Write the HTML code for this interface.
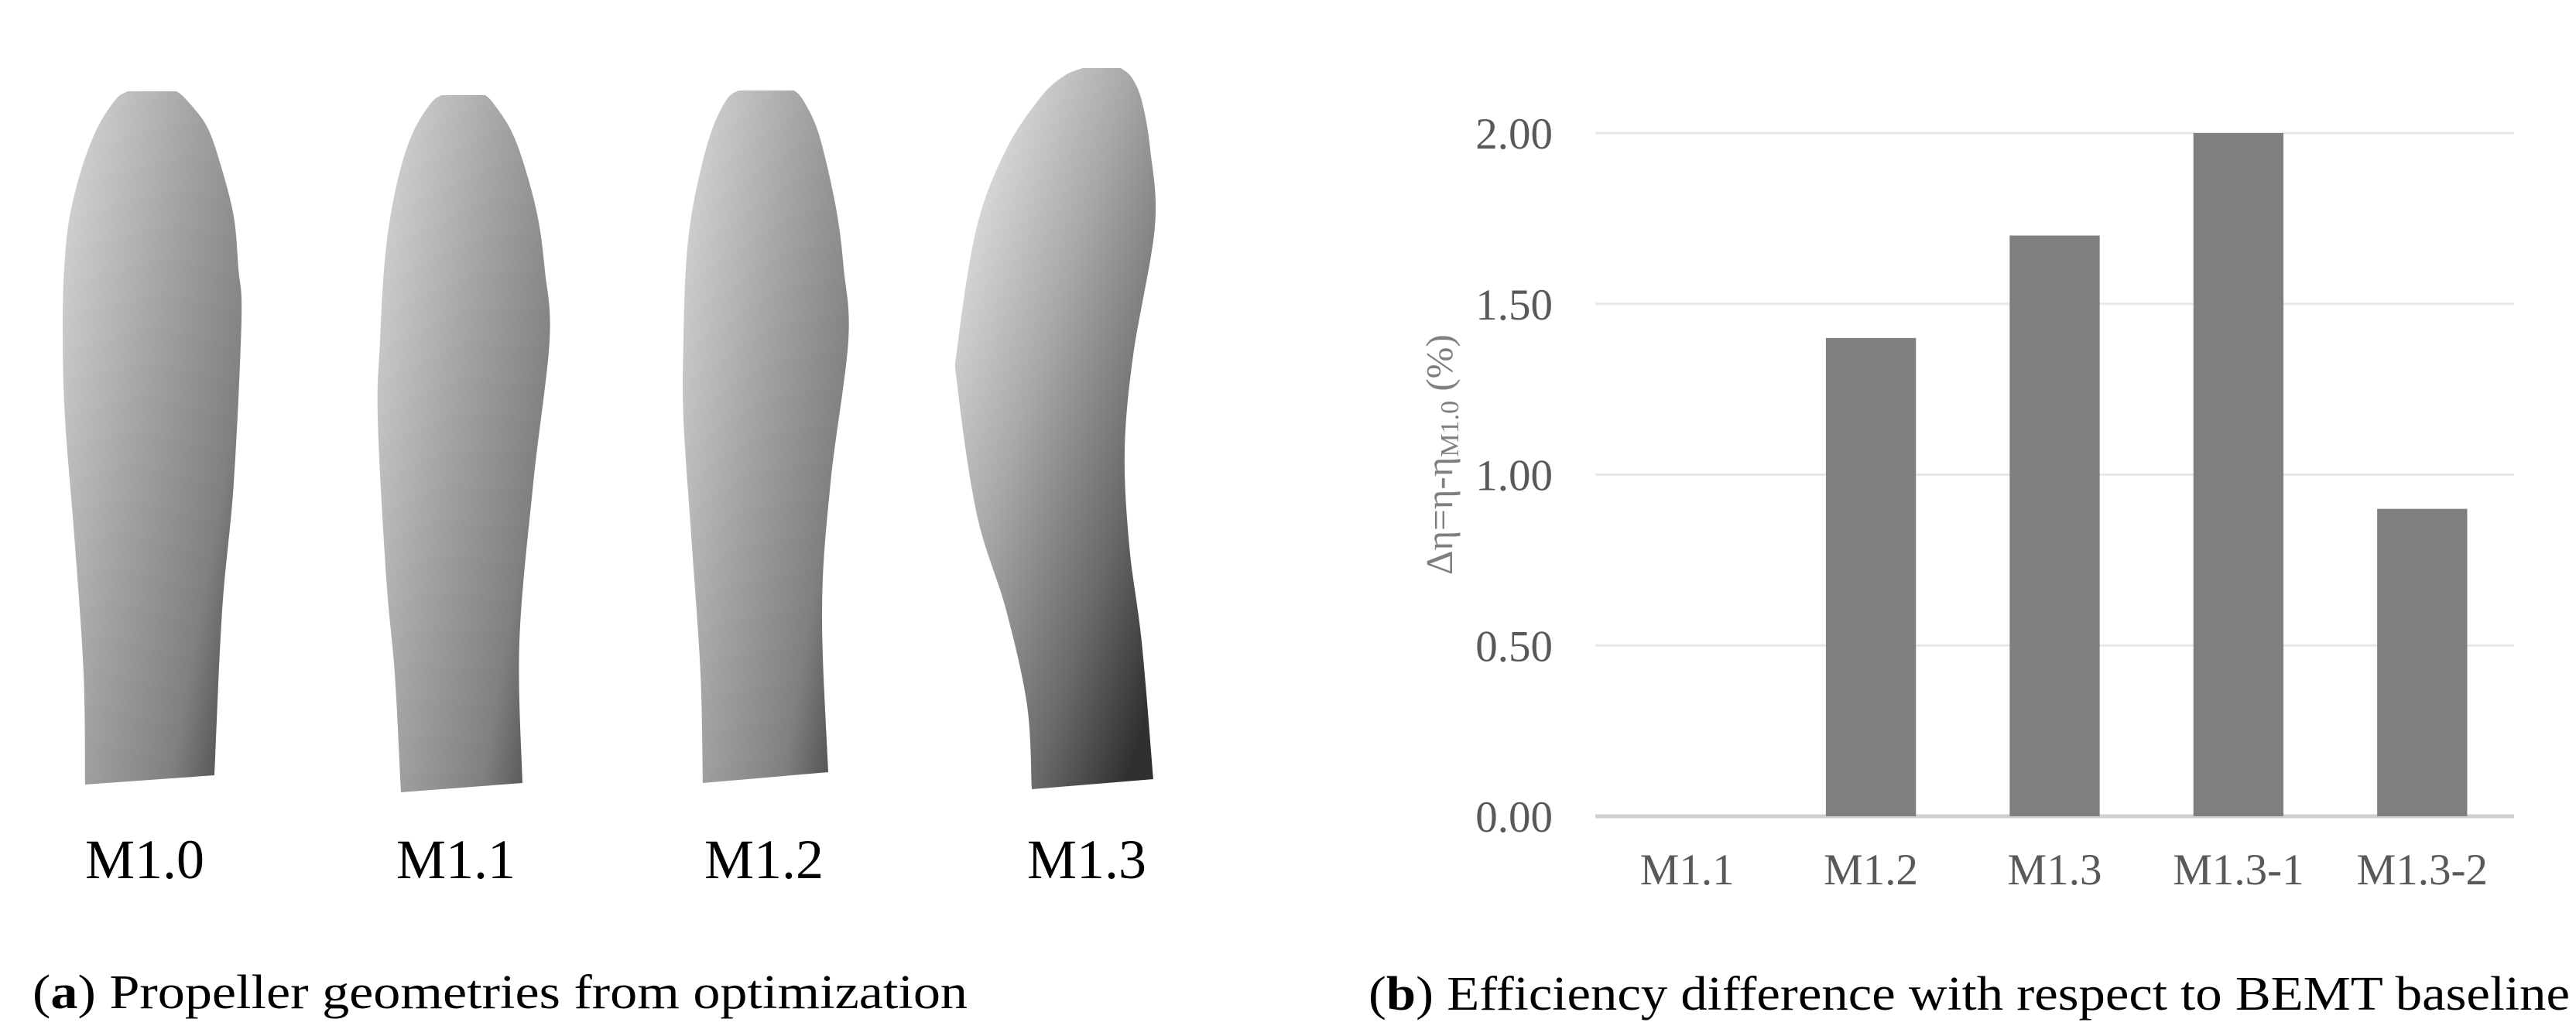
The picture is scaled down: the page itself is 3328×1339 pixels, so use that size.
<!DOCTYPE html>
<html>
<head>
<meta charset="utf-8">
<style>
  html,body{margin:0;padding:0;background:#fff;}
  svg{display:block;}
  text{font-family:"Liberation Serif","DejaVu Serif",serif;}
</style>
</head>
<body>
<svg id="fig" width="3328" height="1339" viewBox="0 0 3328 1339" xmlns="http://www.w3.org/2000/svg">
  <defs>
    <linearGradient id="gBlade" x1="0" y1="0.15" x2="1" y2="0.85">
      <stop offset="0" stop-color="#d2d2d2"/>
      <stop offset="0.45" stop-color="#a2a2a2"/>
      <stop offset="0.8" stop-color="#808080"/>
      <stop offset="1" stop-color="#505050"/>
    </linearGradient>
    <linearGradient id="gBlade3" x1="0.1" y1="0.05" x2="0.9" y2="0.95">
      <stop offset="0" stop-color="#e6e6e6"/>
      <stop offset="0.4" stop-color="#a8a8a8"/>
      <stop offset="0.75" stop-color="#6a6a6a"/>
      <stop offset="1" stop-color="#303030"/>
    </linearGradient>
  </defs>
  <g id="panel-a"></g>
  <g id="panel-b"></g>
  <text x="42" y="1303" font-size="62" fill="#000" textLength="1208" lengthAdjust="spacingAndGlyphs">(<tspan font-weight="bold">a</tspan>) Propeller geometries from optimization</text>
  <text x="1768" y="1305" font-size="62" fill="#000" textLength="1552" lengthAdjust="spacingAndGlyphs">(<tspan font-weight="bold">b</tspan>) Efficiency difference with respect to BEMT baseline</text>
</svg>
<script>
// ---- Chart data ----
const categories = ["M1.1", "M1.2", "M1.3", "M1.3-1", "M1.3-2"];
const values = [0.0, 1.4, 1.7, 2.0, 0.9];
const tickValues = [0, 0.5, 1.0, 1.5, 2.0];
const tickLabels = ["0.00", "0.50", "1.00", "1.50", "2.00"];

const NS = "http://www.w3.org/2000/svg";
function mk(tag, attrs, parent){
  const e = document.createElementNS(NS, tag);
  for (const k in attrs) e.setAttribute(k, attrs[k]);
  parent.appendChild(e);
  return e;
}

// ---- Bar chart ----
const pb = document.getElementById('panel-b');
const plotL = 2061, plotR = 3248, y0px = 1055, y2px = 172;
const yMin = 0, yMax = 2.0;
function yScale(v){ return y0px - (v - yMin) / (yMax - yMin) * (y0px - y2px); }
const band = (plotR - plotL) / categories.length;
function xCenter(i){ return plotL + band * (i + 0.5); }
const barW = band * 0.49;

tickValues.forEach((t, i) => {
  const y = yScale(t);
  const gl = mk('line', {x1: plotL, x2: plotR, y1: y, y2: y, stroke: i === 0 ? '#d0d0d0' : '#e8e8e8', 'stroke-width': i === 0 ? 5 : 3}, pb);
  
  
  const tl = mk('text', {x: 2006, y: y + 20, 'text-anchor': 'end', 'font-size': 57, fill: '#595959'}, pb);
  tl.textContent = tickLabels[i];
  
  
});

categories.forEach((c, i) => {
  const v = values[i];
  const top = yScale(v);
  const h = Math.max(0, y0px - top);
  const r = mk('rect', {x: xCenter(i) - barW / 2, y: top, width: barW, height: h, fill: '#7f7f7f'}, pb);
  
  
  const lb = mk('text', {x: xCenter(i), y: 1143, 'text-anchor': 'middle', 'font-size': 57, fill: '#595959'}, pb);
  lb.textContent = c;
  
  
});

const yt = mk('text', {x: 0, y: 0, 'font-size': 49, fill: '#7f7f7f', transform: 'translate(1876,743) rotate(-90)'}, pb);
yt.innerHTML = 'Δη=η-η<tspan font-size="34" dy="8">M1.0</tspan><tspan dy="-8"> (%)</tspan>';



// ---- Blades ----
const pa = document.getElementById('panel-a');
function smoothPath(pts){
  let d = 'M' + pts[0][0] + ',' + pts[0][1];
  for (let i = 0; i < pts.length - 1; i++){
    const p0 = pts[Math.max(0, i - 1)], p1 = pts[i], p2 = pts[i + 1], p3 = pts[Math.min(pts.length - 1, i + 2)];
    const c1 = [p1[0] + (p2[0] - p0[0]) / 6, p1[1] + (p2[1] - p0[1]) / 6];
    const c2 = [p2[0] - (p3[0] - p1[0]) / 6, p2[1] - (p3[1] - p1[1]) / 6];
    d += ' C' + c1[0].toFixed(1) + ',' + c1[1].toFixed(1) + ' ' + c2[0].toFixed(1) + ',' + c2[1].toFixed(1) + ' ' + p2[0] + ',' + p2[1];
  }
  return d;
}
const blades = [
  {name:'M1.0', cx:187, grad:'gBlade',
   left:[[165,118],[150,128],[127,163],[107,213],[90,280],[83,347],[81,430],[84,541],[97,706],[108,871],[110,1014]],
   right:[[228,118],[240,128],[267,163],[285,213],[302,280],[308,347],[312,413],[302,624],[287,789],[277,1002]]},
  {name:'M1.1', cx:589, grad:'gBlade',
   left:[[570,123],[557,133],[535,168],[518,216],[504,282],[496,350],[491,440],[488,541],[499,747],[510,871],[518,1024]],
   right:[[627,123],[637,133],[660,168],[678,216],[695,282],[704,350],[710,440],[689,624],[671,830],[675,1012]]},
  {name:'M1.2', cx:987, grad:'gBlade',
   left:[[954,117],[940,127],[922,162],[907,212],[893,280],[886,347],[883,440],[883,541],[894,706],[905,871],[908,1012]],
   right:[[1026,117],[1036,127],[1054,162],[1068,212],[1082,280],[1090,347],[1096,440],[1073,624],[1062,789],[1070,998]]},
  {name:'M1.3', cx:1404, grad:'gBlade3',
   left:[[1399,88],[1375,98],[1345,125],[1300,193],[1262,293],[1237,447],[1237,500],[1262,665],[1300,789],[1327,912],[1333,1020]],
   right:[[1448,88],[1462,100],[1475,130],[1486,193],[1492,293],[1464,459],[1453,583],[1459,706],[1475,830],[1490,1007]]}
];
blades.forEach(b => {
  const rightRev = b.right.slice().reverse();
  const dl = smoothPath(b.left);
  const dr = smoothPath(rightRev).replace(/^M/, ' L');
  const p = mk('path', {d: dl + dr + ' Z', fill: 'url(#' + b.grad + ')'}, pa);
  
  
  const t = mk('text', {x: b.cx, y: 1135, 'text-anchor': 'middle', 'font-size': 72, fill: '#000'}, pa);
  t.textContent = b.name;
  
  
});
</script>
</body>
</html>
